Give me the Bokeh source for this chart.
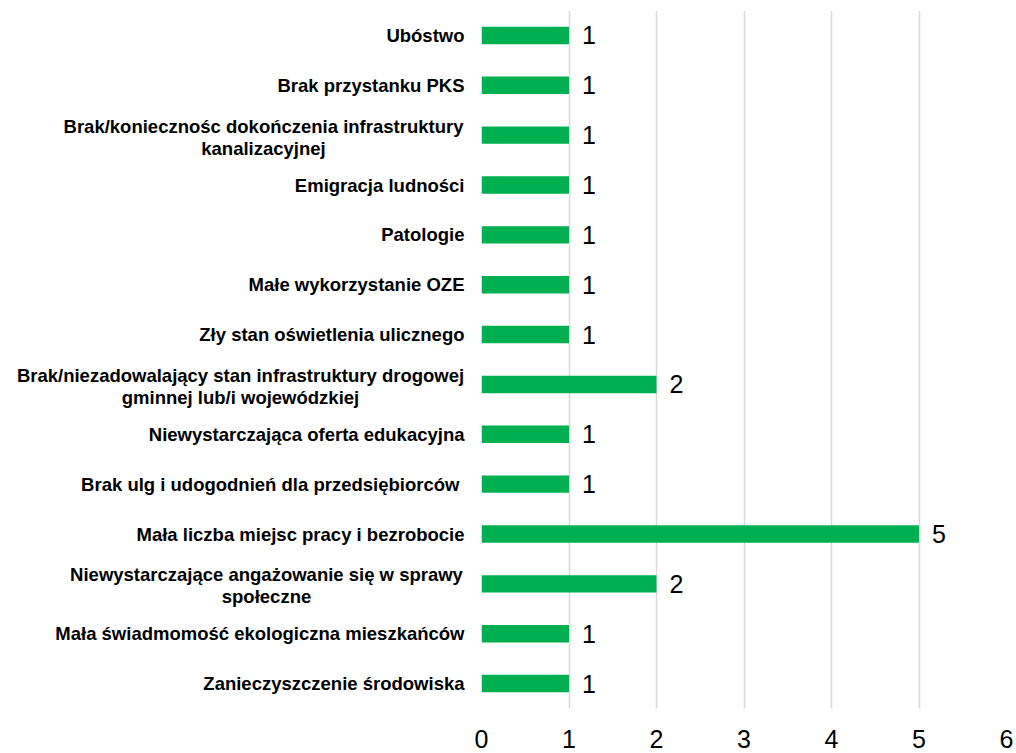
from bokeh.plotting import figure
from bokeh.models import ColumnDataSource, FactorRange, Range1d, FixedTicker
from bokeh.layouts import row
from bokeh.core.properties import value
from bokeh.embed import file_html
from bokeh.resources import INLINE

categories = [
    "Ubóstwo",
    "Brak przystanku PKS",
    "Brak/koniecznośc dokończenia infrastruktury\nkanalizacyjnej",
    "Emigracja ludności",
    "Patologie",
    "Małe wykorzystanie OZE",
    "Zły stan oświetlenia ulicznego",
    "Brak/niezadowalający stan infrastruktury drogowej\ngminnej lub/i wojewódzkiej",
    "Niewystarczająca oferta edukacyjna",
    "Brak ulg i  udogodnień dla przedsiębiorców",
    "Mała liczba miejsc pracy i bezrobocie",
    "Niewystarczające angażowanie się w sprawy\nspołeczne",
    "Mała świadmomość ekologiczna mieszkańców",
    "Zanieczyszczenie środowiska",
]
values = [1, 1, 1, 1, 1, 1, 1, 2, 1, 1, 5, 2, 1, 1]
x_ticks = [0, 1, 2, 3, 4, 5, 6]

# style: horizontal centre of wrapped (two-line) labels, px left of the bar frame
two_line_centre_offset = {
    categories[2]: -218,
    categories[7]: -241,
    categories[11]: -215,
}

FONT = "Liberation Sans"
GREEN = "#00B050"
TOP, BOTTOM, H = 10, 45, 753
GAP = 12                      # left border of the bar plot (room for the "0" tick label)
LABEL_W, PLOT_W = 481 - GAP, 535 + GAP
LABEL_SIZE = "18.5px"

y_range = FactorRange(factors=list(reversed(categories)))

source = ColumnDataSource(dict(
    cat=categories,
    val=values,
    lab=[str(v) for v in values],
))

single = [c for c in categories if "\n" not in c]
double = [c for c in categories if "\n" in c]
src_single = ColumnDataSource(dict(cat=single, x=[1] * len(single)))
src_double = ColumnDataSource(dict(
    cat=double, x=[1] * len(double),
    off=[two_line_centre_offset[c] + GAP for c in double],
))

# ---- label column (category names) ----
lp = figure(
    width=LABEL_W, height=H, y_range=y_range, x_range=Range1d(0, 1),
    output_backend="svg", toolbar_location=None,
)
lp.min_border_top = TOP
lp.min_border_bottom = BOTTOM
lp.min_border_left = 0
lp.min_border_right = 0
lp.outline_line_color = None
lp.xaxis.visible = False
lp.yaxis.visible = False
lp.xgrid.visible = False
lp.ygrid.visible = False
lp.text(x="x", y="cat", text="cat", source=src_single, x_offset=-17 + GAP,
        text_baseline="middle", text_align="right",
        text_font=value(FONT), text_font_size=LABEL_SIZE,
        text_font_style="bold", text_color="black")
lp.text(x="x", y="cat", text="cat", source=src_double, x_offset="off", y_offset=2,
        text_baseline="middle", text_align="center", text_line_height=1.05,
        text_font=value(FONT), text_font_size=LABEL_SIZE,
        text_font_style="bold", text_color="black")

# ---- bar plot ----
p = figure(
    width=PLOT_W, height=H, y_range=y_range, x_range=Range1d(0, 6),
    output_backend="svg", toolbar_location=None,
)
p.min_border_top = TOP
p.min_border_right = 10
p.min_border_left = GAP
p.min_border_bottom = BOTTOM
p.outline_line_color = None

p.hbar(y="cat", right="val", left=0, height=0.35, source=source,
       fill_color=GREEN, line_color=None)
p.text(x="val", y="cat", text="lab", source=source, x_offset=13,
       text_baseline="middle", text_align="left",
       text_font=value(FONT), text_font_size="25px", text_color="black")

p.xaxis.ticker = FixedTicker(ticks=x_ticks)
p.xaxis.axis_line_color = None
p.xaxis.major_tick_line_color = None
p.xaxis.minor_tick_line_color = None
p.xaxis.major_label_text_font = FONT
p.xaxis.major_label_text_font_size = "25px"
p.xaxis.major_label_text_color = "black"
p.xaxis.major_label_standoff = 15

p.yaxis.visible = False
p.ygrid.grid_line_color = None
p.xgrid.grid_line_color = "#D9D9D9"
p.xgrid.grid_line_width = 1.5

layout = row(lp, p, spacing=0)
open("out.html", "w").write(file_html(layout, INLINE))
